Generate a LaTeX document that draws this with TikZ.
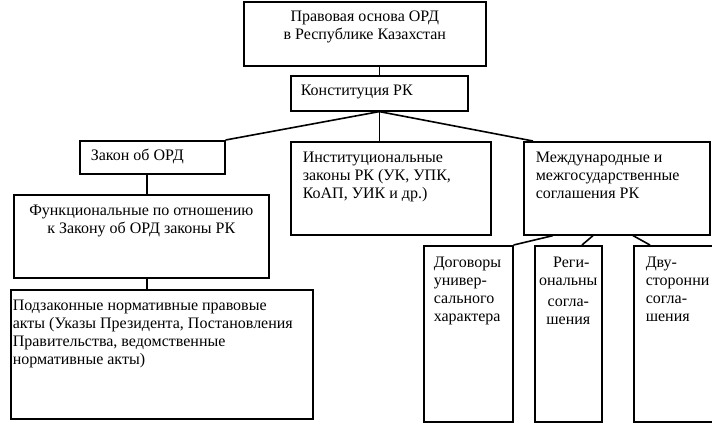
\documentclass[tikz,border=0pt]{standalone}
\usepackage{fontspec}
\setmainfont{Liberation Serif}
\usetikzlibrary{calc}
\begin{document}
\begin{tikzpicture}[x=1pt,y=-1pt,
  bx/.style={draw, line width=1.6pt, inner ysep=0pt, anchor=north west, font=\fontsize{16}{18}\selectfont},
  ln/.style={line width=1.6pt}]
\fill[white] (0,0) rectangle (712,423);
\useasboundingbox (0,0) rectangle (712,423);
\node[bx, inner xsep=4pt] (top) at (243,1) {\parbox[t][64pt][t]{234pt}{\centering\vspace*{7.4pt}\strut Правовая основа ОРД\\ в Республике Казахстан}};
\node[bx, inner xsep=10pt] (cons) at (290,75) {\parbox[t][35pt][t]{157pt}{\raggedright\vspace*{7.4pt}\strut Конституция РК}};
\node[bx, inner xsep=11pt] (zakon) at (79,140) {\parbox[t][33pt][t]{123pt}{\raggedright\vspace*{7.4pt}\strut Закон об ОРД}};
\node[bx, inner xsep=12pt] (inst) at (290,141) {\parbox[t][93pt][t]{176pt}{\raggedright\vspace*{8.4pt}\strut Институциональные\\ законы РК (УК, УПК,\\ КоАП, УИК и др.)}};
\node[bx, inner xsep=12pt] (intl) at (523,141) {\parbox[t][93pt][t]{162pt}{\raggedright\vspace*{8.4pt}\strut Международные и\\ межгосударственные\\ соглашения РК}};
\node[bx, inner xsep=4pt] (func) at (13,194) {\parbox[t][83pt][t]{247pt}{\centering\vspace*{8.4pt}\strut Функциональные по отношению\\ к Закону об ОРД законы РК}};
\node[bx, inner xsep=2pt] (podz) at (10,289) {\parbox[t][129pt][t]{298pt}{\raggedright\vspace*{8.4pt}\strut Подзаконные нормативные правовые\\ акты (Указы Президента, Постановления\\ Правительства, ведомственные\\ нормативные акты)}};
\node[bx, inner xsep=10pt] (dog) at (423,245) {\parbox[t][176pt][t]{69pt}{\raggedright\vspace*{9.4pt}\strut Договоры\\ универ-\\ сального\\ характера}};
\node[bx, inner xsep=2pt] (reg) at (534,245) {\parbox[t][176pt][t]{63pt}{\centering\vspace*{9.4pt}\strut \hspace*{6pt}Реги-\\ ональны\\[3pt] согла-\\ шения}};
\node[bx, inner xsep=12pt] (dvu) at (633,245) {\parbox[t][176pt][t]{66pt}{\raggedright\vspace*{9.4pt}\strut Дву-\\ сторонни\\ согла-\\ шения}};
\draw[ln] (cons.north) -- (cons.north |- top.south);
\draw[ln] (cons.south) -- (zakon.north east);
\draw[ln] (cons.south) -- (cons.south |- inst.north);
\draw[ln] (cons.south) -- ($(intl.north west)+(10,0)$);
\coordinate (zk) at ($(zakon.south)+(-5.5,0)$);
\draw[ln] (zk) -- (zk |- func.north);
\coordinate (fk) at (zk |- func.south);
\draw[ln] (fk) -- (fk |- podz.north);
\draw[ln] ($(intl.south west)+(30,0)$) -- (dog.north east);
\draw[ln] ($(intl.south west)+(70,0)$) -- ($(reg.north west)+(48,0)$);
\draw[ln] ($(intl.south west)+(110,0)$) -- ($(dvu.north west)+(17,0)$);
\end{tikzpicture}
\end{document}
